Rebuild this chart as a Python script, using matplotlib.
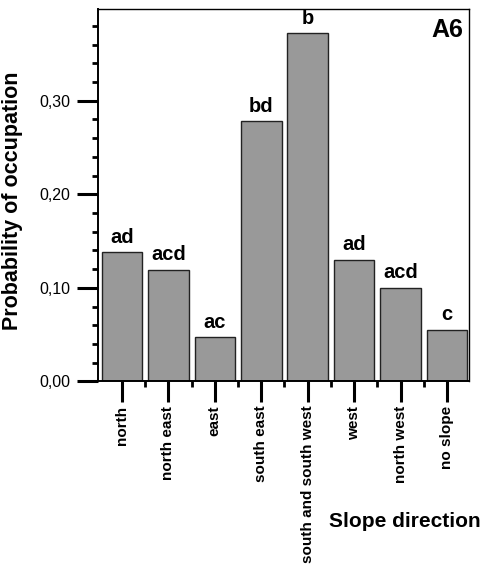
import matplotlib.pyplot as plt
from matplotlib.ticker import MultipleLocator, FixedLocator, FuncFormatter

plt.rcParams['font.family'] = ['Liberation Sans', 'DejaVu Sans']

# slope direction categories and probability of occupation
directions = ['north', 'north east', 'east', 'south east',
              'south and south west', 'west', 'north west', 'no slope']
probability = [0.138, 0.119, 0.047, 0.278, 0.372, 0.130, 0.100, 0.055]
groups = ['ad', 'acd', 'ac', 'bd', 'b', 'ad', 'acd', 'c']

fig = plt.figure(figsize=(4.83, 5.70), dpi=100)
ax = fig.add_axes([0.2035, 0.331, 0.768, 0.653])

pos = list(range(len(directions)))
bars = ax.bar(pos, probability, width=0.875, color='#999999',
              edgecolor='#222222', linewidth=1.0)

# significance letters above each bar
for p, v, g in zip(pos, probability, groups):
    ax.annotate(g, (p, v), xytext=(0, 7), textcoords='offset points',
                ha='center', va='baseline', fontsize=14.5, fontweight='bold')

ax.text(0.985, 0.975, 'A6', transform=ax.transAxes, ha='right', va='top',
        fontsize=18, fontweight='bold')

ax.set_xlim(-0.51, 7.48)
ax.set_ylim(0, 0.398)

# y axis ticks
ax.yaxis.set_major_locator(MultipleLocator(0.1))
ax.yaxis.set_minor_locator(MultipleLocator(0.02))
ax.yaxis.set_major_formatter(FuncFormatter(lambda v, _: f'{v:.2f}'.replace('.', ',')))
ax.tick_params(axis='y', which='major', length=15, width=2.2, pad=5,
               labelsize=11.5, color='black')
ax.tick_params(axis='y', which='minor', length=4, width=2.0)

# x axis ticks
ax.set_xticks(pos)
ax.set_xticklabels(directions, rotation=90, fontsize=11, fontweight='bold')
ax.xaxis.set_minor_locator(FixedLocator([p + 0.5 for p in pos[:-1]]))
ax.tick_params(axis='x', which='major', length=15, width=2.2, pad=2.5)
ax.tick_params(axis='x', which='minor', length=4, width=2.0)

for s in ax.spines.values():
    s.set_linewidth(1.0)
ax.spines['left'].set_linewidth(1.4)
ax.spines['bottom'].set_linewidth(1.4)

ax.set_ylabel('Probability of occupation', fontsize=15.5, fontweight='bold')
ax.yaxis.set_label_coords(-0.203, 0.486)
ax.set_xlabel('Slope direction', fontsize=15, fontweight='bold', ha='right')
ax.xaxis.set_label_coords(1.03, -0.377)
ax.xaxis.label.set_va('center')

plt.savefig('out.png', dpi=100)
plt.close()
